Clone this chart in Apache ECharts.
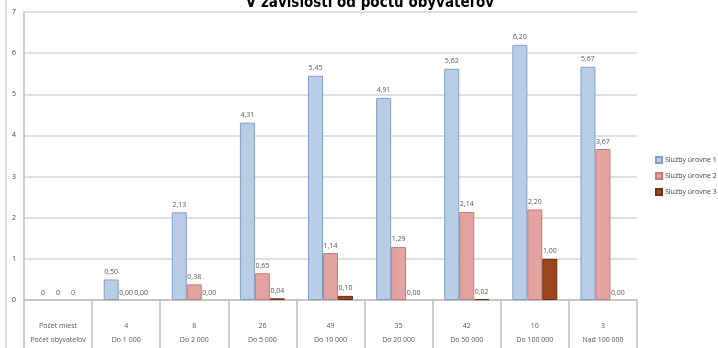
<!DOCTYPE html>
<html><head><meta charset="utf-8">
<script src="https://cdn.jsdelivr.net/npm/echarts@6/dist/echarts.min.js"></script>
<style>html,body{margin:0;padding:0;background:#fff}#c{width:718px;height:348px}</style>
</head><body><div id="c"></div>
<script>
const titleText = "V závislosti od počtu obyvateľov";
const rowHeaders = ["Počet miest", "Počet obyvateľov"];
const counts = ["", "4", "8", "26", "49", "35", "42", "10", "3"];
const categories = ["", "Do 1 000", "Do 2 000", "Do 5 000", "Do 10 000", "Do 20 000", "Do 50 000", "Do 100 000", "Nad 100 000"];
const seriesNames = ["Služby úrovne 1", "Služby úrovne 2", "Služby úrovne 3"];
const level1 = [0, 0.50, 2.13, 4.31, 5.45, 4.91, 5.62, 6.20, 5.67];
const level2 = [0, 0.00, 0.38, 0.65, 1.14, 1.29, 2.14, 2.20, 3.67];
const level3 = [0, 0.00, 0.00, 0.04, 0.10, 0.00, 0.02, 1.00, 0.00];
const yTicks = [0, 1, 2, 3, 4, 5, 6, 7];

const fills = ["#b9cde5", "#e2a3a1", "#9a461a"];
const borders = ["#7f9fc9", "#c57977", "#6b300f"];
const font = "'Open Sans', 'DejaVu Sans', sans-serif";

const chart = echarts.init(document.getElementById('c'));
function mk(i, data) {
  return {
    name: seriesNames[i], type: 'bar',
    data: data.map(v => v === 0 ? { value: v, itemStyle: { borderWidth: 0 } } : v),
    barGap: '0%', barCategoryGap: '34%',
    itemStyle: { color: fills[i], borderColor: borders[i], borderWidth: 1 },
    label: {
      show: true, position: 'top', distance: 4, color: '#555', fontSize: 7, fontFamily: font,
      formatter: p => p.dataIndex === 0 ? '0' : p.value.toFixed(2).replace('.', ',')
    }
  };
}
chart.setOption({
  animation: false,
  backgroundColor: '#fff',
  title: { text: titleText, left: 365, textAlign: 'center', top: -9,
    textStyle: { fontFamily: "'Liberation Sans Narrow', 'DejaVu Sans Condensed', sans-serif", fontWeight: 'bold', fontSize: 15, color: '#000' } },
  legend: {
    orient: 'vertical', left: 650, top: 151, itemWidth: 6, itemHeight: 6, itemGap: 8,
    icon: 'rect',
    textStyle: { fontSize: 7, color: '#444', fontFamily: font, padding: [0, 0, 0, -2] },
    data: seriesNames
  },
  graphic: [{ type: 'line', shape: { x1: 6, y1: 0, x2: 6, y2: 348 }, style: { stroke: '#d0d0d0', lineWidth: 1.5 }, silent: true }],
  grid: { left: 24, right: 81, top: 12, bottom: 48 },
  xAxis: {
    type: 'category', data: categories,
    axisLine: { lineStyle: { color: '#bdbdbd', width: 1.5 } },
    axisTick: { show: true, alignWithLabel: false, length: 48, lineStyle: { color: '#bdbdbd', width: 1.5 } },
    axisLabel: {
      interval: 0, margin: 19, color: '#555', fontSize: 7, fontFamily: font, lineHeight: 14,
      formatter: (v, i) => i === 0 ? rowHeaders[0] + '\n' + rowHeaders[1] : counts[i] + '\n' + v
    }
  },
  yAxis: {
    type: 'value', min: 0, max: 7, interval: 1,
    axisLine: { show: true, lineStyle: { color: '#bdbdbd', width: 1.5 } },
    axisTick: { show: false },
    axisLabel: { margin: 8, color: '#444', fontSize: 7, fontFamily: font,
      formatter: v => yTicks.includes(v) ? String(v) : '' },
    splitLine: { lineStyle: { color: '#d4d4d4', width: 1.5 } }
  },
  series: [mk(0, level1), mk(1, level2), mk(2, level3)]
});
</script></body></html>
